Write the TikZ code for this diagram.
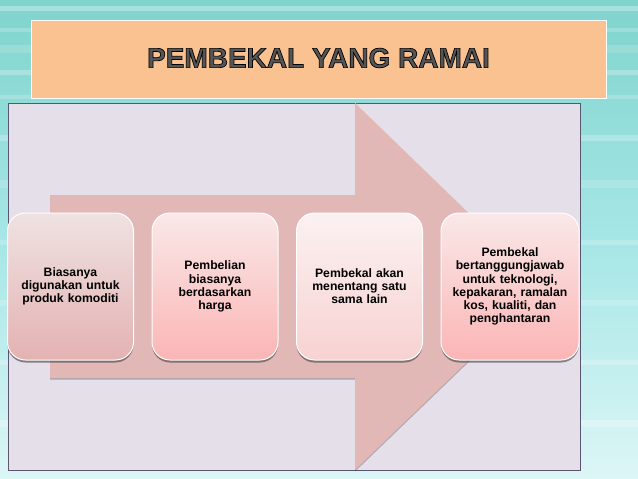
\documentclass[tikz,border=0pt]{standalone}
\usepackage{fontspec}
\setmainfont{Liberation Sans}
\newfontface\titleface{Liberation Sans Bold}[FakeBold=2.5]
\usetikzlibrary{shadows}
\definecolor{bgtop}{HTML}{7FD4CD}
\definecolor{bgmid}{HTML}{A6E6E6}
\definecolor{bgbot}{HTML}{DDF6F6}
\definecolor{titlefill}{HTML}{FAC191}
\definecolor{panelfill}{HTML}{E5DFE9}
\definecolor{panelline}{HTML}{5B5670}
\definecolor{arrowfill}{HTML}{E2B8B7}
\definecolor{btop}{HTML}{FAE8E8}
\definecolor{bbot}{HTML}{FBB5B5}
\definecolor{aTop}{HTML}{EFE2E2}
\definecolor{aBot}{HTML}{E4B2B2}
\definecolor{cTop}{HTML}{FBF1F1}
\definecolor{cBot}{HTML}{F8D2D2}
\definecolor{titletext}{HTML}{555555}
\tikzset{
  stepbox/.style={rounded corners=18pt, draw=white, line width=1pt,
    top color=btop, bottom color=bbot, minimum width=125pt, minimum height=147pt,
    text width=122pt, align=center, inner sep=2pt,
    font=\bfseries\fontsize{12.2}{13.1}\selectfont,
    drop shadow={shadow xshift=0pt, shadow yshift=-2.5pt, opacity=0.6, fill=black!75}},
  titlefont/.style={font=\titleface\fontsize{28}{30}\selectfont},
}
\begin{document}
\begin{tikzpicture}[x=1pt,y=-1pt]
\useasboundingbox (0,0) rectangle (638,479);
% background
\shade[top color=bgtop, bottom color=bgbot, middle color=bgmid] (0,0) rectangle (638,479);
\foreach \yy/\op/\h in {6/0.3/5,28/0.2/4,45/0.15/8,70/0.25/5,95/0.2/4,135/0.25/6,180/0.15/8,240/0.2/5,300/0.2/6,360/0.25/5,420/0.3/7}
  \fill[white, opacity=\op] (0,\yy) rectangle (638,\yy+\h);
% title
\node[draw=white, line width=1pt, fill=titlefill, minimum width=575pt, minimum height=78pt,
      anchor=north west, inner sep=0pt] (t) at (31,20) {};
\node[titlefont, text=titletext] (tt) at (318.5,58) {\special{pdf:code 0 0 0 RG}PEMBEKAL YANG RAMAI};
% panel
\node[draw=panelline, line width=1pt, fill=panelfill, minimum width=572pt, minimum height=367pt,
      anchor=north west, inner sep=0pt] (p) at (8,103) {};
% arrow
\fill[arrowfill, drop shadow={shadow xshift=0pt, shadow yshift=-1.5pt, opacity=0.25, fill=black}]
  (50,195) -- (355,195) -- (355,103) -- (545,287) -- (355,470) -- (355,378) -- (50,378) -- cycle;
% boxes
\node[stepbox, top color=aTop, bottom color=aBot] (b1) at (70.5,286.5)
  {Biasanya\\digunakan untuk\\produk komoditi};
\node[stepbox] (b2) at (215,286.5)
  {Pembelian\\biasanya\\berdasarkan\\harga};
\node[stepbox, top color=cTop, bottom color=cBot] (b3) at (359.5,286.5)
  {Pembekal akan\\menentang satu\\sama lain};
\node[stepbox, minimum width=137pt, text width=134pt] (b4) at (510,286.5)
  {Pembekal\\bertanggungjawab\\untuk teknologi,\\kepakaran, ramalan\\kos, kualiti, dan\\penghantaran};
\end{tikzpicture}
\end{document}
